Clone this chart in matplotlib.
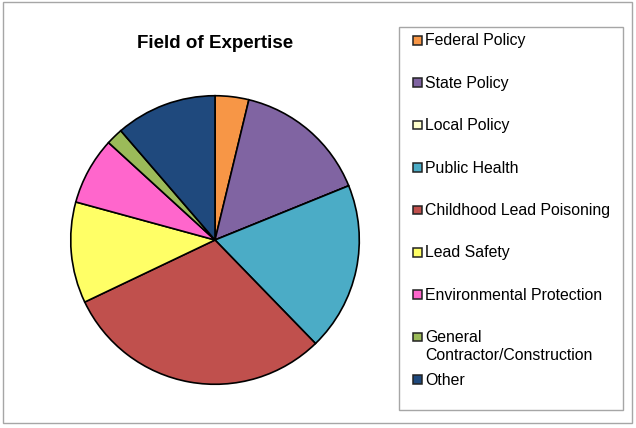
import matplotlib.pyplot as plt
from matplotlib.patches import Rectangle

# values (count of answers per field)
labels = ['Federal Policy', 'State Policy', 'Local Policy', 'Public Health',
          'Childhood Lead Poisoning', 'Lead Safety', 'Environmental Protection',
          'General\nContractor/Construction', 'Other']
counts = [2, 8, 0, 10, 16, 6, 4, 1, 6]
colors = ['#F79646', '#8064A2', '#FFFFCC', '#4BACC6', '#C0504D',
          '#FFFF66', '#FF66CC', '#9BBB59', '#1F497D']

W, H = 636, 428
fig = plt.figure(figsize=(W / 100, H / 100), dpi=100)
plt.rcParams['font.family'] = ['Liberation Sans', 'DejaVu Sans']


def fx(x):
    return x / W


def fy(y):
    return 1 - y / H


# outer frame
fig.patches.append(Rectangle((fx(3), fy(423)), fx(632) - fx(3), fy(2) - fy(423),
                             transform=fig.transFigure, fill=False,
                             edgecolor='#A6A6A6', lw=1))

# pie: centre (215, 240), radius 145 px
cx, cy, r = 215, 240, 145
ax = fig.add_axes([fx(cx - r), fy(cy + r), 2 * r / W, 2 * r / H])
ax.pie(counts, colors=colors, startangle=90, counterclock=False,
       wedgeprops=dict(edgecolor='black', linewidth=1.2))
ax.set_xlim(-1.005, 1.005)
ax.set_ylim(-1.005, 1.005)
ax.set_aspect('equal')
ax.axis('off')

fig.text(fx(215), fy(43), 'Field of Expertise', ha='center', va='center',
         fontsize=13.5, fontweight='bold')

# legend box
fig.patches.append(Rectangle((fx(399), fy(410)), fx(623) - fx(399), fy(27) - fy(410),
                             transform=fig.transFigure, fill=False,
                             edgecolor='#A6A6A6', lw=1))
for i, (lab, col) in enumerate(zip(labels, colors)):
    yc = 40 + 42.4 * i
    fig.patches.append(Rectangle((fx(413), fy(yc + 4.5)), 8.5 / W, 8.5 / H,
                                 transform=fig.transFigure, facecolor=col,
                                 edgecolor='#222222', lw=1.1))
    fig.text(fx(425), fy(yc - 6.5), lab, ha='left', va='top', fontsize=11.4,
             linespacing=1.25)

fig.savefig('out.png', dpi=100)
